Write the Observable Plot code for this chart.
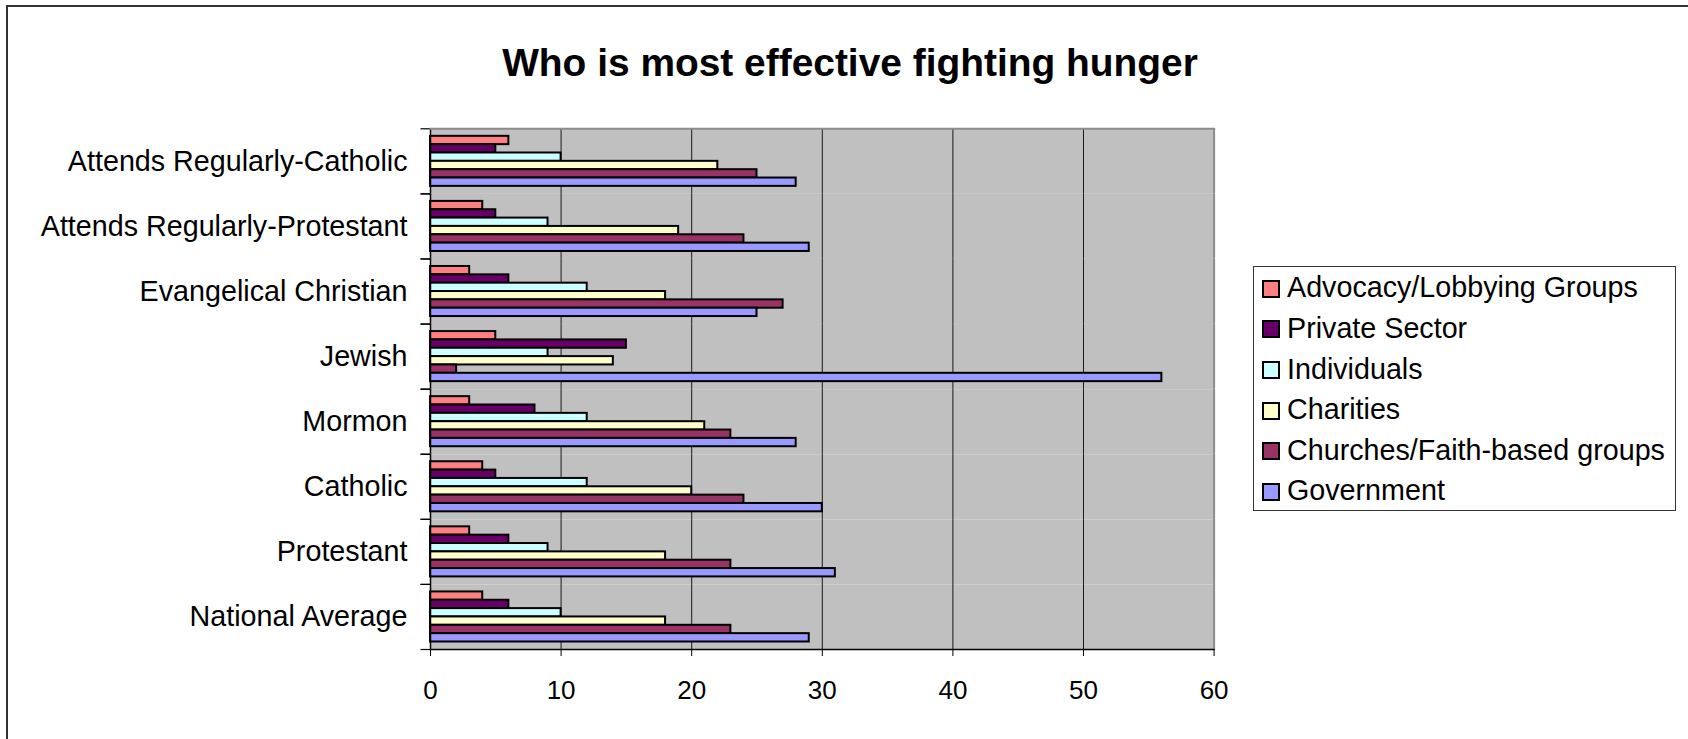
<!DOCTYPE html>
<html>
<head>
<meta charset="utf-8">
<script src="https://cdn.jsdelivr.net/npm/d3@7"></script>
<script src="https://cdn.jsdelivr.net/npm/@observablehq/plot@0.6"></script>
<style>
  html, body { margin: 0; padding: 0; background: #fff; }
  body { width: 1688px; height: 739px; position: relative; overflow: hidden;
         font-family: "Liberation Sans", Arial, Helvetica, sans-serif; color: #000; }
  #border { position: absolute; left: 6px; top: 5px; width: 1720px; height: 780px;
            border: 2px solid #333; box-sizing: border-box; }
  #title { position: absolute; left: 0; top: 44px; width: 1700px; text-align: center;
           font-size: 38.9px; line-height: 38.9px; font-weight: bold; }
  #chart { position: absolute; left: 0; top: 100px; }
  #legend { position: absolute; left: 1253px; top: 266px; width: 423px; height: 245px;
            box-sizing: border-box; border: 1.5px solid #333; padding: 1.5px 0 0 8px; background: #fff; }
  .item { height: 40.6px; display: flex; align-items: center; font-size: 28.7px; line-height: 28.7px; }
  .sw { width: 18px; height: 18px; box-sizing: border-box; border: 2px solid #000; margin-right: 7px; flex: none; }
  .item span { position: relative; top: -1px; }
</style>
</head>
<body>
<div id="border"></div>
<div id="title">Who is most effective fighting hunger</div>
<div id="chart"></div>
<div id="legend"></div>
<script>
// ---- data ----
const categories = [
  "Attends Regularly-Catholic",
  "Attends Regularly-Protestant",
  "Evangelical Christian",
  "Jewish",
  "Mormon",
  "Catholic",
  "Protestant",
  "National Average"
];
const series = [
  "Advocacy/Lobbying Groups",
  "Private Sector",
  "Individuals",
  "Charities",
  "Churches/Faith-based groups",
  "Government"
];
const seriesColors = ["#FF8080", "#660066", "#CCFFFF", "#FFFFCC", "#993366", "#9999FF"];
const advocacy      = [6, 4, 3, 5, 3, 4, 3, 4];
const privateSector = [5, 5, 6, 15, 8, 5, 6, 6];
const individuals   = [10, 9, 12, 9, 12, 12, 9, 10];
const charities     = [22, 19, 18, 14, 21, 20, 18, 18];
const churches      = [25, 24, 27, 2, 23, 24, 23, 23];
const government    = [28, 29, 25, 56, 28, 30, 31, 29];
const xTicks = [0, 10, 20, 30, 40, 50, 60];
const gridTicks = [10, 20, 30, 40, 50];

const seriesValues = [advocacy, privateSector, individuals, charities, churches, government];
const table = [];
categories.forEach((c, ci) => {
  series.forEach((s, si) => {
    table.push({category: c, series: s, value: seriesValues[si][ci]});
  });
});

// tick symbol pointing left from the axis
const leftTick = {
  draw(context, size) {
    const r = Math.sqrt(size / Math.PI);
    context.moveTo(-r, 0);
    context.lineTo(0, 0);
  }
};

const chart = Plot.plot({
  width: 1240,
  height: 639,
  marginLeft: 430,
  marginRight: 26.4,
  marginTop: 28.3,
  marginBottom: 90,
  style: {fontFamily: '"Liberation Sans", Arial, sans-serif', color: "#000", background: "transparent"},
  x: {domain: [0, 60]},
  y: {domain: series, axis: null, paddingInner: 0, paddingOuter: 0.9, round: false},
  fy: {domain: categories, padding: 0, round: false},
  color: {domain: series, range: seriesColors},
  marks: [
    Plot.frame({fill: "#c0c0c0", stroke: "none"}),
    Plot.gridX(gridTicks, {stroke: "#1a1a1a", strokeOpacity: 1, strokeWidth: 1}),
    Plot.ruleX([60], {stroke: "#8c8c8c", strokeWidth: 2}),
    Plot.barX(table, {x: "value", y: "series", fy: "category", fill: "series", stroke: "#000", strokeWidth: 2}),
    Plot.ruleX([0], {stroke: "#000", strokeWidth: 1.5}),
    Plot.dot([0], {frameAnchor: "top-left", symbol: leftTick, r: 10, fill: "none", stroke: "#000", strokeWidth: 1.2}),
    Plot.dot([0], {frameAnchor: "bottom-left", symbol: leftTick, r: 10, fill: "none", stroke: "#000", strokeWidth: 1.2}),
    Plot.frame({anchor: "top", stroke: "#8c8c8c", strokeWidth: 2, facet: "super"}),
    Plot.frame({anchor: "bottom", stroke: "#000", strokeWidth: 1.5, facet: "super"}),
    Plot.axisX({ticks: xTicks, tickSize: 7, tickPadding: 24, fontSize: 26, label: null, tickFormat: d => String(d)}),
    Plot.axisFy({anchor: "left", tickSize: 0, tickPadding: 23, fontSize: 28.7, label: null})
  ]
});
document.getElementById("chart").appendChild(chart);

// legend built from the same series / colours
const legend = document.getElementById("legend");
series.forEach((s, i) => {
  const row = document.createElement("div");
  row.className = "item";
  const sw = document.createElement("div");
  sw.className = "sw";
  sw.style.background = seriesColors[i];
  const label = document.createElement("span");
  label.textContent = s;
  row.appendChild(sw);
  row.appendChild(label);
  legend.appendChild(row);
});
</script>
</body>
</html>
